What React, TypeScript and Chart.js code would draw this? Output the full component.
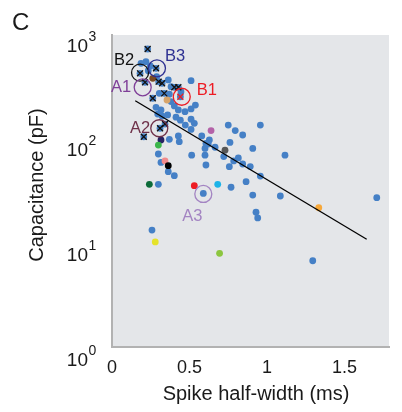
import React, { useEffect, useRef } from "react";
import { Chart, registerables } from "chart.js";

Chart.register(...registerables);

// ---------- data ----------
const xTickValues = [0, 0.5, 1, 1.5];
const yTickValues = [1, 10, 100, 1000];

// all recorded cells (blue dots): spike half-width (ms) / capacitance (pF)
const cellWidth = [
  0.75, 0.957, 0.795, 0.843, 0.761, 0.621, 0.6, 0.6, 0.721, 0.908, 1.116, 0.785, 0.815,
  0.843, 0.892, 0.957, 0.865, 0.768, 0.908, 1.086, 1.708, 0.929, 0.94, 1.295, 0.589,
  0.37, 0.428, 0.606, 0.299, 0.316, 0.514, 0.606, 0.757, 0.402, 0.363, 0.299, 0.258,
  0.187, 0.219, 0.247, 0.234, 0.288, 0.363, 0.51, 0.381, 0.445, 0.305, 0.37, 0.381,
  0.402, 0.428, 0.471, 0.51, 0.538, 0.284, 0.316, 0.295, 0.323, 0.359, 0.413, 0.441,
  0.473, 0.51, 0.51, 0.531, 0.434, 0.579, 0.628, 0.665,
];
const cellCap = [
  132, 132, 117, 106, 90, 87, 79, 68, 66, 79, 68, 60, 64,
  56, 53, 43, 38, 33.6, 28.3, 27.7, 26.7, 19.4, 17.1, 6.67, 29.3,
  96.4, 104, 88, 69.8, 58, 68, 54.8, 52.8, 43.3, 47.3, 35.8, 13.1,
  513, 532, 484, 436, 382, 356, 350, 307, 275, 265, 260, 221,
  201, 184, 177, 188, 205, 195, 184, 168, 161, 165, 157, 147,
  132, 150, 120, 137, 91.5, 104, 95, 81,
];

// cells marked with a cross
const markedWidth = [0.23, 0.284, 0.181, 0.213, 0.301, 0.323, 0.402, 0.428, 0.337, 0.263, 0.31, 0.342, 0.205];
const markedCap = [703, 460, 412, 338, 343, 331, 303, 303, 265, 238, 123, 135, 102];
const redMarkWidth = [0.441];
const redMarkCap = [246];

// individually coloured cells
const specialWidth = [0.263, 0.355, 0.639, 0.729, 0.316, 0.299, 0.342, 0.363, 0.241, 0.531, 0.682, 1.334, 0.279, 0.694];
const specialCap = [369, 229, 117, 76, 95, 85, 60, 54, 35.8, 34.8, 35.8, 21.4, 10.1, 7.85];

// highlighted example cells (open circles)
const circleNames = ["B2", "B3", "A1", "B1", "A2", "A3"];
const circleWidth = [0.181, 0.29, 0.198, 0.45, 0.305, 0.589];
const circleCap = [418, 460, 303, 246, 123, 29];

// regression line end points
const fitWidth = [0.15, 1.643];
const fitCap = [225, 10.7];

// ---------- styles ----------
const FONT = '"Liberation Sans", Arial, Helvetica, sans-serif';
const BLUE = "#4580c6";
const PLOT_BG = "#e4e6e9";
const AXIS_LINE = "#b2b2b2";
const TEXT = "#1a1a1a";
const SPECIAL_FILLS = [
  "#7a4a22", "#d6a46a", "#b462a8", "#575757", "#262262", "#3bb54a", "#f28b8c",
  "#000000", "#0c6b39", "#ed1c24", "#1cb3e8", "#f7a83a", "#e5e32a", "#8cc63f",
];
const CIRCLE_COLORS = ["#111111", "#2e3192", "#7f3f98", "#ed1c24", "#6e3149", "#a384c2"];
const LABEL_STYLE: Record<string, { dx: number; dy: number; align: CanvasTextAlign }> = {
  B2: { dx: -26, dy: -8, align: "left" },
  B3: { dx: 8, dy: -7, align: "left" },
  A1: { dx: -11.5, dy: 5, align: "right" },
  B1: { dx: 15, dy: -1.5, align: "left" },
  A2: { dx: -9, dy: 5, align: "right" },
  A3: { dx: -11, dy: 27, align: "center" },
};

const pts = (xs: number[], ys: number[]) => xs.map((x, i) => ({ x, y: ys[i] }));

const bgPlugin = {
  id: "plotBg",
  beforeDraw(chart: any) {
    const { ctx, chartArea } = chart;
    const { left, top, right, bottom } = chartArea;
    ctx.save();
    ctx.fillStyle = PLOT_BG;
    ctx.fillRect(left, top, right - left, bottom - top);
    ctx.restore();
  },
};

const textPlugin = {
  id: "texts",
  afterDraw(chart: any) {
    const { ctx } = chart;
    const xs = chart.scales.x;
    const ys = chart.scales.y;
    ctx.save();
    ctx.fillStyle = TEXT;
    ctx.textBaseline = "alphabetic";

    // panel letter
    ctx.font = `24px ${FONT}`;
    ctx.textAlign = "left";
    ctx.fillText("C", 12, 30);

    // y tick labels 10^n
    yTickValues.forEach((v) => {
      const p = ys.getPixelForValue(v);
      const e = Math.round(Math.log10(v));
      ctx.font = `19px ${FONT}`;
      ctx.textAlign = "right";
      ctx.fillText("10", 88, p + 18.5);
      ctx.font = `14px ${FONT}`;
      ctx.textAlign = "left";
      ctx.fillText(String(e), 88.5, p + 7.5);
    });

    // axis titles
    ctx.font = `20px ${FONT}`;
    ctx.textAlign = "center";
    ctx.fillText("Spike half-width (ms)", 256, 400);
    ctx.save();
    ctx.translate(43, 185);
    ctx.rotate(-Math.PI / 2);
    ctx.fillText("Capacitance (pF)", 0, 0);
    ctx.restore();

    // annotation labels
    ctx.font = `16.5px ${FONT}`;
    circleNames.forEach((name, i) => {
      const st = LABEL_STYLE[name];
      const px = xs.getPixelForValue(circleWidth[i]);
      const py = ys.getPixelForValue(circleCap[i]);
      ctx.fillStyle = CIRCLE_COLORS[i];
      ctx.textAlign = st.align;
      ctx.fillText(name, px + st.dx, py + st.dy);
    });
    ctx.restore();
  },
};

export default function App() {
  const ref = useRef<HTMLCanvasElement | null>(null);

  useEffect(() => {
    if (!ref.current) return;
    const chart = new Chart(ref.current, {
      type: "scatter",
      data: {
        datasets: [
          {
            type: "line",
            label: "fit",
            data: pts(fitWidth, fitCap),
            borderColor: "#000000",
            borderWidth: 1.3,
            pointRadius: 0,
            pointHoverRadius: 0,
            fill: false,
            order: 0,
          } as any,
          {
            label: "examples",
            data: pts(circleWidth, circleCap),
            pointStyle: "circle",
            pointRadius: 8.5,
            backgroundColor: "rgba(0,0,0,0)",
            borderColor: CIRCLE_COLORS,
            borderWidth: 1.3,
            order: 1,
          },
          {
            label: "marked",
            data: pts(markedWidth, markedCap),
            pointStyle: "crossRot",
            pointRadius: 4.2,
            borderColor: "#111111",
            borderWidth: 1.3,
            order: 2,
          },
          {
            label: "markedRed",
            data: pts(redMarkWidth, redMarkCap),
            pointStyle: "crossRot",
            pointRadius: 4.2,
            borderColor: "#ed1c24",
            borderWidth: 1.3,
            order: 2,
          },
          {
            label: "special",
            data: pts(specialWidth, specialCap),
            pointRadius: 3.4,
            backgroundColor: SPECIAL_FILLS,
            borderWidth: 0,
            order: 3,
          },
          {
            label: "cells",
            data: pts(
              [...cellWidth, ...markedWidth, ...redMarkWidth],
              [...cellCap, ...markedCap, ...redMarkCap]
            ),
            pointRadius: 3.4,
            backgroundColor: BLUE,
            borderWidth: 0,
            order: 4,
          },
        ],
      },
      options: {
        animation: false,
        responsive: false,
        events: [],
        layout: { padding: { left: 0, right: 13, top: 35, bottom: 0 } },
        plugins: { legend: { display: false }, tooltip: { enabled: false } },
        scales: {
          x: {
            type: "linear",
            min: 0,
            max: 1.787,
            afterBuildTicks: (s: any) => {
              s.ticks = xTickValues.map((v) => ({ value: v }));
            },
            afterFit: (s: any) => {
              s.height = 65;
            },
            grid: { display: false, drawTicks: false },
            border: { display: true, color: AXIS_LINE, width: 2 },
            ticks: {
              padding: 10,
              autoSkip: false,
              maxRotation: 0,
              color: TEXT,
              font: { family: FONT, size: 18 },
              callback: (v: any) => String(v),
            },
          },
          y: {
            type: "logarithmic",
            min: 1,
            max: 957,
            afterBuildTicks: (s: any) => {
              s.ticks = yTickValues.filter((v) => v <= 957).map((v) => ({ value: v }));
            },
            afterFit: (s: any) => {
              s.width = 112;
            },
            grid: { display: false, drawTicks: false },
            border: { display: true, color: AXIS_LINE, width: 2 },
            ticks: { display: false },
          },
        },
      },
      plugins: [bgPlugin, textPlugin],
    });
    return () => chart.destroy();
  }, []);

  return (
    <div style={{ position: "absolute", left: 0, top: 0, width: 402, height: 412, background: "#ffffff" }}>
      <canvas ref={ref} width={402} height={412} style={{ width: 402, height: 412 }} />
    </div>
  );
}
